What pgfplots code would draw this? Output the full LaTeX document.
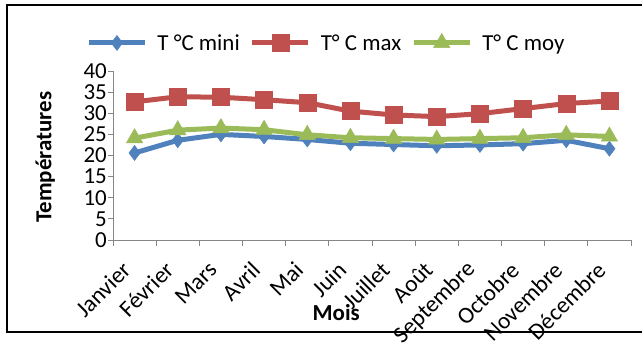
\documentclass[border=0pt]{standalone}
\usepackage{pgfplots}
\pgfplotsset{compat=1.18}
\usepackage{fontspec}
\setmainfont{Carlito}
\definecolor{cblue}{HTML}{4F81BD}
\definecolor{cred}{HTML}{C0504D}
\definecolor{cgreen}{HTML}{9BBB59}
\definecolor{axgray}{HTML}{868686}
\begin{document}
\begin{tikzpicture}[x=1bp,y=1bp]
\path[use as bounding box] (0,0) rectangle (642,360);
\draw[line width=1.8bp] (7,28) rectangle (660,355);
\begin{axis}[
  at={(113bp,120bp)}, anchor=south west,
  scale only axis, width=518bp, height=169bp,
  xmin=-0.5, xmax=11.5, ymin=0, ymax=40,
  ytick={0,5,...,40},
  xtick={0,...,11},
  xticklabels={Janvier,Février,Mars,Avril,Mai,Juin,Juillet,Août,Septembre,Octobre,Novembre,Décembre},
  minor xtick={-0.5,0.5,...,11.5},
  major x tick style={draw=none},
  axis x line*=bottom, axis y line*=left,
  axis line style={-, draw=axgray, line width=1bp},
  tick style={draw=axgray, line width=1bp},
  tick align=outside,
  major tick length=5bp, minor tick length=6bp,
  /pgf/number format/assume math mode=true,
  yticklabel style={font=\fontsize{23}{25}\selectfont, inner sep=1bp},
  xticklabel style={font=\fontsize{23.5}{26}\selectfont, xshift=-8bp, yshift=-21bp, rotate=45, anchor=east, inner sep=0bp},
  xlabel={Mois}, ylabel={Températures},
  label style={font=\fontsize{23}{25}\selectfont\bfseries},
  xlabel style={at={(rel axis cs:0.431,-0.43)}, anchor=center},
  ylabel style={at={(rel axis cs:-0.131,0.49)}, anchor=center},
  legend columns=3,
  legend style={at={(rel axis cs:0.412,1.166)}, anchor=center, draw=none,
    font=\fontsize{23}{25}\selectfont, column sep=8bp, inner sep=0pt},
  legend image code/.code={\draw[mark repeat=2,mark phase=2] plot coordinates {(0bp,0bp)(28bp,0bp)(56bp,0bp)};},
  every axis plot/.append style={line width=5bp},
]
\addplot[color=cblue, mark=diamond*, mark size=7.5bp, mark options={line width=0.5bp}] coordinates {
(0,20.6)(1,23.6)(2,25.0)(3,24.5)(4,23.8)(5,22.9)(6,22.6)(7,22.3)(8,22.5)(9,22.8)(10,23.6)(11,21.6)};
\addlegendentry{T °C mini}
\addplot[color=cred, mark=square*, mark size=8.5bp, mark options={line width=0.5bp}] coordinates {
(0,32.7)(1,33.9)(2,33.8)(3,33.2)(4,32.5)(5,30.5)(6,29.6)(7,29.2)(8,29.9)(9,31.1)(10,32.3)(11,32.9)};
\addlegendentry{T° C max}
\addplot[color=cgreen, mark=triangle*, mark size=9.5bp, mark options={line width=0.5bp}] coordinates {
(0,24.1)(1,26.0)(2,26.5)(3,26.1)(4,24.9)(5,24.2)(6,24.0)(7,23.8)(8,24.0)(9,24.2)(10,24.9)(11,24.5)};
\addlegendentry{T° C moy}
\end{axis}
\end{tikzpicture}
\end{document}
